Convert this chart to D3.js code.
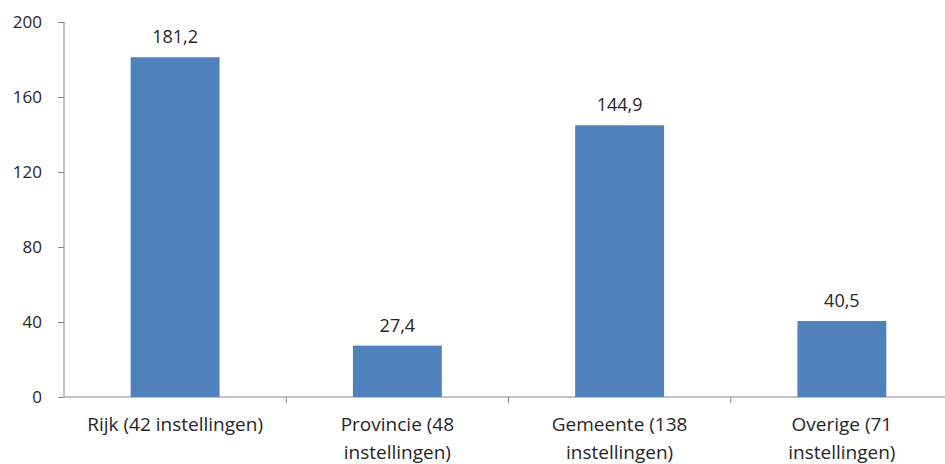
<!DOCTYPE html>
<html>
<head>
<meta charset="utf-8">
<script src="https://cdn.jsdelivr.net/npm/d3@7"></script>
<style>
  body { margin: 0; background: #fff; }
  svg text { font-family: "Open Sans", "Noto Sans", sans-serif; fill: #262626; }
</style>
</head>
<body>
<div id="chart"></div>
<script>
// categories, wrapped the same way as in the picture
const categories = ["Rijk", "Provincie", "Gemeente", "Overige"];
const categoryLines = [
    ["Rijk (42 instellingen)"],
    ["Provincie (48", "instellingen)"],
    ["Gemeente (138", "instellingen)"],
    ["Overige (71", "instellingen)"]
];
const values = [181.2, 27.4, 144.9, 40.5];
const yTicks = [0, 40, 80, 120, 160, 200];

const width = 945, height = 464;
const margin = {top: 22, right: -8, bottom: 67, left: 64};

const svg = d3.select("#chart")
    .append("svg")
    .attr("width", width)
    .attr("height", height);

const x = d3.scaleBand()
    .domain(categories)
    .range([margin.left, width - margin.right])
    .paddingInner(0.6)
    .paddingOuter(0.3);

const y = d3.scaleLinear()
    .domain([0, 200])
    .range([height - margin.bottom, margin.top]);

const fmt = v => d3.format(".1f")(v).replace(".", ",");

// y axis
let yAxis = svg.append("g")
    .attr("transform", "translate(" + margin.left + ",0)")
    .call(d3.axisLeft(y).tickValues(yTicks).tickSize(6).tickPadding(16));
yAxis.selectAll("path, line").attr("stroke", "#868686");
yAxis.select(".domain").attr("d", "M0," + y(200) + "V" + y(0));
yAxis.selectAll("text")
    .style("font-size", "17px")
    .attr("fill", "#262626");

// x axis line + category dividers
const step = x.step();
svg.append("line")
    .attr("x1", margin.left).attr("x2", width)
    .attr("y1", y(0)).attr("y2", y(0))
    .attr("stroke", "#868686");
svg.selectAll(".divider")
    .data(categories.slice(1))
    .enter().append("line")
    .attr("class", "divider")
    .attr("x1", d => x(d) - step * 0.3)
    .attr("x2", d => x(d) - step * 0.3)
    .attr("y1", y(0)).attr("y2", y(0) + 6)
    .attr("stroke", "#868686");

// bars
svg.selectAll("rect")
    .data(values)
    .enter().append("rect")
    .attr("x", (d, i) => x(categories[i]))
    .attr("y", d => y(d))
    .attr("width", x.bandwidth())
    .attr("height", d => y(0) - y(d))
    .attr("fill", "#4f81bd");

// value labels
svg.selectAll(".val")
    .data(values)
    .enter().append("text")
    .attr("class", "val")
    .attr("x", (d, i) => x(categories[i]) + x.bandwidth() / 2)
    .attr("y", d => y(d) - 14)
    .attr("text-anchor", "middle")
    .style("font-size", "18px")
    .text(d => fmt(d));

// category labels
categoryLines.forEach((lines, i) => {
    let t = svg.append("text")
        .attr("x", x(categories[i]) + x.bandwidth() / 2)
        .attr("y", y(0) + 34)
        .attr("text-anchor", "middle")
        .style("font-size", "19px");
    lines.forEach((l, j) => {
        t.append("tspan")
            .attr("x", x(categories[i]) + x.bandwidth() / 2)
            .attr("dy", j === 0 ? 0 : 28)
            .text(l);
    });
});
</script>
</body>
</html>
